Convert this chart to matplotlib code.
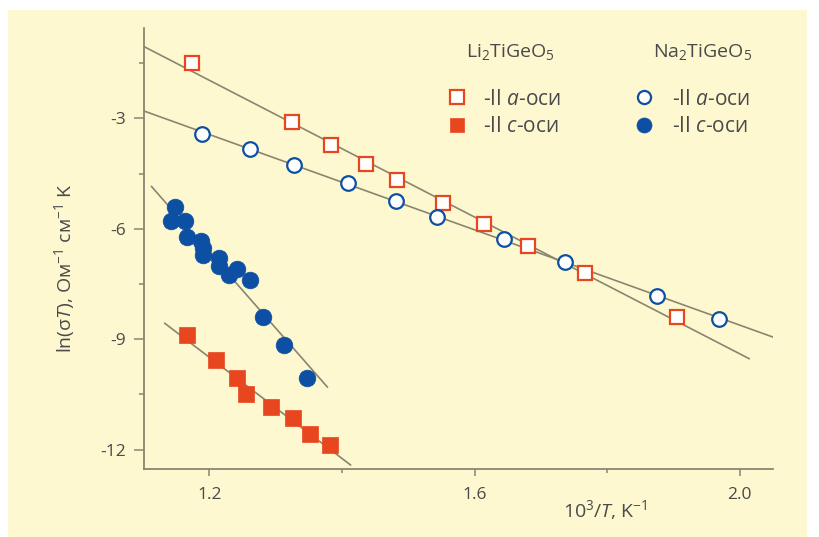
import matplotlib
matplotlib.use("Agg")
import matplotlib.pyplot as plt
from matplotlib.patches import Rectangle
from matplotlib.ticker import MultipleLocator

plt.rcParams['font.family'] = ['Open Sans', 'DejaVu Sans']
plt.rcParams['mathtext.fontset'] = 'custom'
plt.rcParams['mathtext.rm'] = 'Open Sans'
plt.rcParams['mathtext.it'] = 'Open Sans:italic'
plt.rcParams['mathtext.bf'] = 'Open Sans:bold'
plt.rcParams['axes.unicode_minus'] = False

# Li2TiGeO5, || a axis (open squares)
li_a_x = [1.174, 1.324, 1.383, 1.436, 1.483, 1.553, 1.614, 1.680, 1.766, 1.905]
li_a_y = [-1.50, -3.09, -3.73, -4.23, -4.67, -5.30, -5.87, -6.46, -7.19, -8.39]
# Li2TiGeO5, || c axis (filled squares)
li_c_x = [1.166, 1.210, 1.242, 1.255, 1.293, 1.326, 1.352, 1.382]
li_c_y = [-8.90, -9.56, -10.06, -10.49, -10.85, -11.15, -11.58, -11.87]
# Na2TiGeO5, || a axis (open circles)
na_a_x = [1.189, 1.262, 1.328, 1.409, 1.481, 1.544, 1.644, 1.737, 1.875, 1.969]
na_a_y = [-3.43, -3.82, -4.26, -4.76, -5.23, -5.67, -6.28, -6.89, -7.82, -8.44]
# Na2TiGeO5, || c axis (filled circles)
na_c_x = [1.148, 1.142, 1.163, 1.166, 1.188, 1.190, 1.191, 1.214, 1.215,
          1.230, 1.242, 1.261, 1.281, 1.313, 1.347]
na_c_y = [-5.42, -5.78, -5.78, -6.21, -6.34, -6.52, -6.71, -6.80, -7.01,
          -7.25, -7.10, -7.38, -8.39, -9.17, -10.06]

# fit lines (end points)
fit_li_a = ([1.101, 2.014], [-1.04, -9.53])
fit_na_a = ([1.102, 2.051], [-2.80, -8.95])
fit_na_c = ([1.113, 1.378], [-4.85, -10.30])
fit_li_c = ([1.133, 1.413], [-8.57, -12.42])

red = '#e8461f'
blue = '#0c4fa3'
line_col = '#8a8570'
text_col = '#4a4a4a'
bg = '#fdf8cf'

fig = plt.figure(figsize=(8.19, 5.37), dpi=100)
fig.patch.set_facecolor(bg)
# white margins around the cream panel
for rect in [(0, 0, 8 / 819, 1), (807 / 819, 0, 12 / 819, 1), (0, 527 / 537, 1, 10 / 537)]:
    fig.add_artist(Rectangle(rect[:2], rect[2], rect[3], transform=fig.transFigure,
                             facecolor='white', edgecolor='none', zorder=-10))
ax = fig.add_axes([144 / 819, 1 - 469 / 537, 629 / 819, 441 / 537])
ax.set_facecolor('none')

for fx, fy in [fit_li_a, fit_na_a, fit_na_c, fit_li_c]:
    ax.plot(fx, fy, color=line_col, lw=1.2, zorder=1)

l1, = ax.plot(li_a_x, li_a_y, 's', ms=10.5, mfc='white', mec=red, mew=1.6, zorder=3,
              label='-II $\\mathit{a}$-оси')
l2, = ax.plot(li_c_x, li_c_y, 's', ms=11, mfc=red, mec=red, mew=0.5, zorder=3,
              label='-II $\\mathit{c}$-оси')
n1, = ax.plot(na_a_x, na_a_y, 'o', ms=10.5, mfc='white', mec=blue, mew=1.6, zorder=3,
              label='-II $\\mathit{a}$-оси')
n2, = ax.plot(na_c_x, na_c_y, 'o', ms=12, mfc=blue, mec=blue, mew=0.5, zorder=3,
              label='-II $\\mathit{c}$-оси')

ax.set_xlim(1.1016, 2.050)
ax.set_ylim(-12.53, -0.54)
ax.xaxis.set_major_locator(MultipleLocator(0.4))
ax.xaxis.set_minor_locator(MultipleLocator(0.2))
ax.yaxis.set_major_locator(MultipleLocator(3))
ax.yaxis.set_minor_locator(MultipleLocator(1.5))
ax.set_xticks([1.2, 1.6, 2.0])
ax.set_xticklabels(['1.2', '1.6', '2.0'])
ax.set_yticks([-3, -6, -9, -12])
ax.set_yticklabels(['-3', '-6', '-9', '-12'])

for s in ['top', 'right']:
    ax.spines[s].set_visible(False)
for s in ['left', 'bottom']:
    ax.spines[s].set_color(line_col)
    ax.spines[s].set_linewidth(1.3)
ax.tick_params(axis='x', which='major', length=5, width=1.1, color=line_col,
               labelsize=12.5, labelcolor=text_col, pad=8)
ax.tick_params(axis='x', which='minor', length=3, width=1.1, color=line_col)
ax.tick_params(axis='y', which='major', length=7, width=1.1, color=line_col,
               labelsize=12.5, labelcolor=text_col, pad=6)
ax.tick_params(axis='y', which='minor', length=3.5, width=1.1, color=line_col)

ax.set_xlabel('10$^{3}$/$\\mathit{T}$, K$^{-1}$', fontsize=14, color=text_col)
ax.xaxis.set_label_coords(0.733, -0.066)
ax.set_ylabel('ln(σ$\\mathit{T}$), Ом$^{-1}$ см$^{-1}$ K', fontsize=14, color=text_col)
ax.yaxis.set_label_coords(-0.106, 0.456)

ax.text(0.582, 0.9456, 'Li$_2$TiGeO$_5$', transform=ax.transAxes, ha='center',
        va='center', fontsize=14, color=text_col)
ax.text(0.8887, 0.9456, 'Na$_2$TiGeO$_5$', transform=ax.transAxes, ha='center',
        va='center', fontsize=14, color=text_col)

leg1 = ax.legend(handles=[l1, l2], loc='center left', bbox_to_anchor=(0.4833, 0.808),
                 frameon=False, fontsize=15, handlelength=0.9, handletextpad=0.8,
                 labelspacing=0.3, borderpad=0, borderaxespad=0, labelcolor=text_col,
                 markerscale=0.9)
ax.add_artist(leg1)
ax.legend(handles=[n1, n2], loc='center left', bbox_to_anchor=(0.7806, 0.808),
          frameon=False, fontsize=15, handlelength=0.9, handletextpad=0.9,
          labelspacing=0.3, borderpad=0, borderaxespad=0, labelcolor=text_col,
          markerscale=0.9)

fig.savefig('out.png', dpi=100)
